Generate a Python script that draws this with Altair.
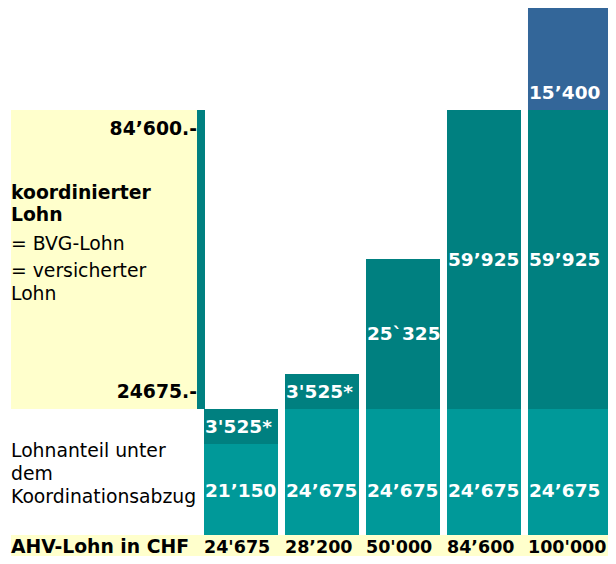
import altair as alt
import pandas as pd

# ---- data -------------------------------------------------------------
categories = ["24'675", "28’200", "50'000", "84’600", "100'000"]        # AHV-Lohn in CHF
unter_koord = [21150, 24675, 24675, 24675, 24675]                      # Lohnanteil unter dem Koordinationsabzug
koordiniert = [3525, 3525, 25325, 59925, 59925]                        # koordinierter Lohn
ueber_max = [0, 0, 0, 0, 15400]                                        # Lohn über dem Maximum
label_unter = ["21’150", "24’675", "24’675", "24’675", "24’675"]
label_koord = ["3'525*", "3'525*", "25`325", "59’925", "59’925"]
label_ueber = ["", "", "", "", "15’400"]
koord_min = 24675
koord_max = 84600
# schematic (not to scale) salary axis: break points of the drawing
salary_breaks = [0, 21150, 24675, 28200, 50000, 84600, 100000]

rows = []
for i, c in enumerate(categories):
    base = 0
    for seg, vals, labs in [("unter", unter_koord, label_unter),
                            ("koord", koordiniert, label_koord),
                            ("ueber", ueber_max, label_ueber)]:
        v = vals[i]
        if v > 0:
            rows.append({"cat": c, "seg": seg, "y0": base, "y1": base + v, "label": labs[i]})
        base += v
df = pd.DataFrame(rows)
one = pd.DataFrame({"a": [0]})

# ---- scales -----------------------------------------------------------
W, H = 600, 548
FONT = "DejaVu Sans"
NB = "\u00a0"
x_scale = alt.Scale(domain=categories, range=[196, 594], paddingInner=0.0864, paddingOuter=0)
y_scale = alt.Scale(type="linear", domain=salary_breaks,
                    range=[527, 436, 401, 366, 251, 102, -2], nice=False, zero=False)
col_scale = alt.Scale(domain=["unter", "koord", "ueber"], range=["#009999", "#008080", "#336699"])

X = alt.X("cat:N", scale=x_scale, axis=None, sort=categories)
Xs = alt.X("cat:N", scale=x_scale, axis=None, sort=categories, bandPosition=0)

# ---- decoration -------------------------------------------------------
panel = alt.Chart(one).mark_rect(color="#FFFFCC").encode(
    x=alt.value(3), x2=alt.value(189),
    y=alt.Y(datum=koord_max, scale=y_scale, axis=None), y2=alt.Y2(datum=koord_min))
panel_bar = alt.Chart(one).mark_rect(color="#008080").encode(
    x=alt.value(189), x2=alt.value(197),
    y=alt.Y(datum=koord_max, scale=y_scale, axis=None), y2=alt.Y2(datum=koord_min))
strip = alt.Chart(one).mark_rect(color="#FFFFCC").encode(
    x=alt.value(3), x2=alt.value(W),
    y=alt.Y(datum=0, scale=y_scale, axis=None), y2=alt.value(H))

# ---- bars -------------------------------------------------------------
bars = alt.Chart(df).mark_bar(cornerRadius=0).encode(
    x=X,
    y=alt.Y("y1:Q", scale=y_scale, axis=None), y2="y0:Q",
    color=alt.Color("seg:N", scale=col_scale, legend=None))

last_ext = alt.Chart(df).transform_filter(alt.datum.cat == categories[-1]).mark_rect().encode(
    x=Xs, x2=alt.value(W),
    y=alt.Y("y1:Q", scale=y_scale, axis=None), y2="y0:Q",
    color=alt.Color("seg:N", scale=col_scale, legend=None))

txt = dict(font=FONT, fontSize=18.5, fontWeight="bold", color="white", align="left")

lab_unter = alt.Chart(df).transform_filter(alt.datum.seg == "unter").mark_text(
    baseline="alphabetic", dy=-38, dx=1, **txt).encode(
    x=Xs, y=alt.Y("y0:Q", scale=y_scale, axis=None), text="label:N")

lab_koord = alt.Chart(df).transform_filter(alt.datum.seg == "koord").mark_text(
    baseline="middle", dx=1, **txt).encode(
    x=Xs, y=alt.value({"expr": "(scale('y', datum.y0) + scale('y', datum.y1)) / 2"}),
    text="label:N")

lab_ueber = alt.Chart(df).transform_filter(alt.datum.seg == "ueber").mark_text(
    baseline="alphabetic", dy=-11, dx=1, **txt).encode(
    x=Xs, y=alt.Y("y0:Q", scale=y_scale, axis=None), text="label:N")

cat_df = pd.DataFrame({"cat": categories})
lab_cat = alt.Chart(cat_df).mark_text(
    baseline="alphabetic", dy=18, dx=0, font=FONT, fontSize=17.5, fontWeight="bold",
    color="black", align="left").encode(
    x=Xs, y=alt.Y(datum=0, scale=y_scale, axis=None), text="cat:N")


def note(text, x, y, bold=False, align="left"):
    return alt.Chart(one).mark_text(
        x=x, y=y, align=align, baseline="alphabetic", font=FONT, fontSize=18.8,
        fontWeight="bold" if bold else "normal", color="black").encode(text=alt.value(text))


notes = [
    note("84’600.-", 189, 127, True, "right"),
    note(NB + "koordinierter", 3, 191, True),
    note("Lohn", 3, 213, True),
    note(NB + "= BVG-Lohn", 3, 242),
    note("= versicherter", 3, 269),
    note("Lohn", 3, 292),
    note("24675.-", 189, 390, True, "right"),
    note(NB + "Lohnanteil unter", 3, 449),
    note("dem", 3, 472),
    note("Koordinationsabzug", 3, 495),
    note(NB + "AHV-Lohn in CHF", 3, 545, True),
]

chart = alt.layer(panel, panel_bar, strip, bars, last_ext, lab_unter, lab_koord, lab_ueber,
                  lab_cat, *notes).properties(
    width=W, height=H, padding=0, autosize=alt.AutoSizeParams(type="none"),
    background="white"
).configure_view(stroke=None)

chart.save("out.html", embed_options={"renderer": "svg", "actions": False})
